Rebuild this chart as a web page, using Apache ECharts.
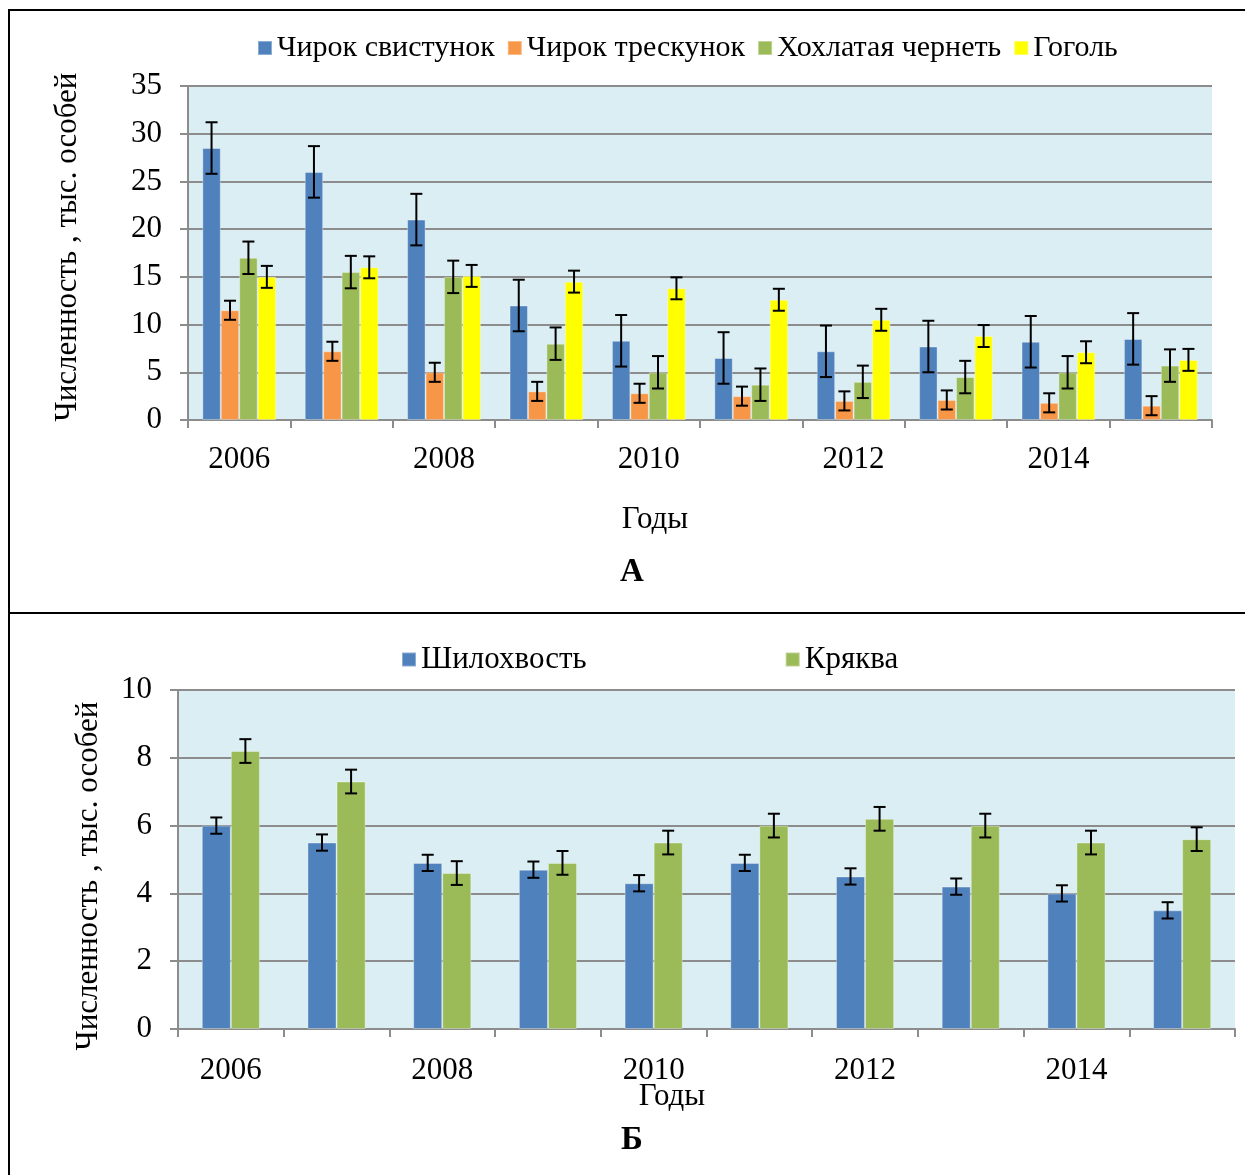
<!DOCTYPE html>
<html>
<head>
<meta charset="utf-8">
<script src="https://cdn.jsdelivr.net/npm/echarts@6/dist/echarts.min.js"></script>
<style>
html, body { margin: 0; padding: 0; background: #fff; }
#chart { width: 1245px; height: 1175px; }
</style>
</head>
<body>
<div id="chart"></div>
<script>
var years = ['2006', '2007', '2008', '2009', '2010', '2011', '2012', '2013', '2014', '2015'];

// panel A
var namesA = ['Чирок свистунок', 'Чирок трескунок', 'Хохлатая чернеть', 'Гоголь'];
var svistunok = [28.5, 26.0, 21.0, 12.0, 8.3, 6.5, 7.2, 7.7, 8.2, 8.5];
var svistunokErr = [2.7, 2.7, 2.7, 2.7, 2.7, 2.7, 2.7, 2.7, 2.7, 2.7];
var treskunok = [11.5, 7.2, 5.0, 3.0, 2.8, 2.5, 2.0, 2.1, 1.8, 1.5];
var treskunokErr = [1.0, 1.0, 1.0, 1.0, 1.0, 1.0, 1.0, 1.0, 1.0, 1.0];
var chernet = [17.0, 15.5, 15.0, 8.0, 5.0, 3.7, 4.0, 4.5, 5.0, 5.7];
var chernetErr = [1.7, 1.7, 1.7, 1.7, 1.7, 1.7, 1.7, 1.7, 1.7, 1.7];
var gogol = [15.0, 16.0, 15.1, 14.5, 13.8, 12.6, 10.5, 8.8, 7.1, 6.3];
var gogolErr = [1.15, 1.15, 1.15, 1.15, 1.15, 1.15, 1.15, 1.15, 1.15, 1.15];

// panel Б
var namesB = ['Шилохвость', 'Кряква'];
var shilohvost = [6.0, 5.5, 4.9, 4.7, 4.3, 4.9, 4.5, 4.2, 4.0, 3.5];
var shilohvostErr = [0.24, 0.24, 0.24, 0.24, 0.24, 0.24, 0.24, 0.24, 0.24, 0.24];
var kryakva = [8.2, 7.3, 4.6, 4.9, 5.5, 6.0, 6.2, 6.0, 5.5, 5.6];
var kryakvaErr = [0.35, 0.35, 0.35, 0.35, 0.35, 0.35, 0.35, 0.35, 0.35, 0.35];

var blue = '#4F81BD', orange = '#F79646', green = '#9BBB59', yellow = '#FFFF00';
var font = "'Liberation Serif', 'Times New Roman', serif";
var axisGray = '#8C8C8C';

function errData(values, errs) {
    var out = [];
    for (var i = 0; i < values.length; i++) {
        out.push([i, values[i] - errs[i], values[i] + errs[i]]);
    }
    return out;
}

function errorRenderer(idx, count, gap) {
    return function (params, api) {
        var catWidth = api.size([1, 0])[0];
        var barWidth = catWidth * (1 - gap) / count;
        var offset = -barWidth * count / 2 + barWidth * (idx + 0.5);
        var hi = api.coord([api.value(0), api.value(2)]);
        var lo = api.coord([api.value(0), api.value(1)]);
        var x = hi[0] + offset;
        var style = {stroke: '#000', lineWidth: 2};
        return {
            type: 'group',
            children: [
                {type: 'line', shape: {x1: x, y1: hi[1], x2: x, y2: lo[1]}, style: style},
                {type: 'line', shape: {x1: x - 6, y1: hi[1], x2: x + 6, y2: hi[1]}, style: style},
                {type: 'line', shape: {x1: x - 6, y1: lo[1], x2: x + 6, y2: lo[1]}, style: style}
            ]
        };
    };
}

function barSeries(name, data, color, gridIdx, gap) {
    return {
        name: name,
        type: 'bar',
        xAxisIndex: gridIdx,
        yAxisIndex: gridIdx,
        data: data,
        barGap: '0%',
        barCategoryGap: gap,
        itemStyle: {color: color, borderColor: 'rgba(255,255,255,0.35)', borderWidth: 1},
        silent: true
    };
}

function errSeries(values, errs, gridIdx, idx, count, gap) {
    return {
        type: 'custom',
        xAxisIndex: gridIdx,
        yAxisIndex: gridIdx,
        renderItem: errorRenderer(idx, count, gap),
        encode: {x: 0, y: [1, 2]},
        data: errData(values, errs),
        z: 10,
        silent: true
    };
}

function xAxis(gridIdx, margin) {
    return {
        type: 'category',
        gridIndex: gridIdx,
        data: years,
        axisLine: {lineStyle: {color: axisGray, width: 2}},
        axisTick: {show: true, interval: 0, length: 8, lineStyle: {color: axisGray, width: 2}},
        axisLabel: {interval: 1, margin: margin, color: '#000', fontFamily: font, fontSize: 31}
    };
}

function yAxis(gridIdx, max, step) {
    return {
        type: 'value',
        gridIndex: gridIdx,
        min: 0,
        max: max,
        interval: step,
        axisLine: {show: true, lineStyle: {color: axisGray, width: 2}},
        axisTick: {show: true, length: 8, lineStyle: {color: axisGray, width: 2}},
        axisLabel: {margin: 26, color: '#000', fontFamily: font, fontSize: 31},
        splitLine: {show: true, lineStyle: {color: axisGray, width: 2}}
    };
}

var chart = echarts.init(document.getElementById('chart'));

var option = {
    animation: false,
    backgroundColor: '#fff',
    textStyle: {fontFamily: font},
    grid: [
        {left: 188, top: 86, width: 1024, height: 334, show: true, backgroundColor: '#DBEEF3', borderWidth: 0},
        {left: 178, top: 690, width: 1057, height: 339, show: true, backgroundColor: '#DBEEF3', borderWidth: 0}
    ],
    legend: [
        {
            data: namesA, left: 252, top: 28, itemWidth: 14, itemHeight: 14, itemGap: 12,
            icon: 'rect', selectedMode: false,
            textStyle: {fontFamily: font, fontSize: 30, color: '#000'}
        },
        {
            data: namesB, left: 396, top: 639, itemWidth: 14, itemHeight: 14, itemGap: 198,
            icon: 'rect', selectedMode: false,
            textStyle: {fontFamily: font, fontSize: 31, color: '#000'}
        }
    ],
    xAxis: [xAxis(0, 24), xAxis(1, 26)],
    yAxis: [yAxis(0, 35, 5), yAxis(1, 10, 2)],
    series: [
        barSeries(namesA[0], svistunok, blue, 0, '28%'),
        barSeries(namesA[1], treskunok, orange, 0, '28%'),
        barSeries(namesA[2], chernet, green, 0, '28%'),
        barSeries(namesA[3], gogol, yellow, 0, '28%'),
        errSeries(svistunok, svistunokErr, 0, 0, 4, 0.28),
        errSeries(treskunok, treskunokErr, 0, 1, 4, 0.28),
        errSeries(chernet, chernetErr, 0, 2, 4, 0.28),
        errSeries(gogol, gogolErr, 0, 3, 4, 0.28),
        barSeries(namesB[0], shilohvost, blue, 1, '45%'),
        barSeries(namesB[1], kryakva, green, 1, '45%'),
        errSeries(shilohvost, shilohvostErr, 1, 0, 2, 0.45),
        errSeries(kryakva, kryakvaErr, 1, 1, 2, 0.45)
    ],
    graphic: [
        {type: 'line', shape: {x1: 8, y1: 10, x2: 1245, y2: 10}, style: {stroke: '#000', lineWidth: 2}},
        {type: 'line', shape: {x1: 9, y1: 10, x2: 9, y2: 1175}, style: {stroke: '#000', lineWidth: 2}},
        {type: 'line', shape: {x1: 8, y1: 613, x2: 1245, y2: 613}, style: {stroke: '#000', lineWidth: 2}},
        {
            type: 'text', x: 68, y: 247, rotation: Math.PI / 2,
            style: {text: 'Численность , тыс. особей', fontFamily: font, fontSize: 31, fill: '#000', align: 'center', verticalAlign: 'middle'}
        },
        {
            type: 'text', x: 89, y: 876, rotation: Math.PI / 2,
            style: {text: 'Численность , тыс. особей', fontFamily: font, fontSize: 31, fill: '#000', align: 'center', verticalAlign: 'middle'}
        },
        {
            type: 'text', x: 655, y: 520,
            style: {text: 'Годы', fontFamily: font, fontSize: 31, fill: '#000', align: 'center', verticalAlign: 'middle'}
        },
        {
            type: 'text', x: 672, y: 1097,
            style: {text: 'Годы', fontFamily: font, fontSize: 31, fill: '#000', align: 'center', verticalAlign: 'middle'}
        },
        {
            type: 'text', x: 632, y: 572,
            style: {text: 'А', fontFamily: font, fontSize: 33, fontWeight: 'bold', fill: '#000', align: 'center', verticalAlign: 'middle'}
        },
        {
            type: 'text', x: 632, y: 1140,
            style: {text: 'Б', fontFamily: font, fontSize: 33, fontWeight: 'bold', fill: '#000', align: 'center', verticalAlign: 'middle'}
        }
    ]
};

chart.setOption(option);
window.onresize = function () {
    chart.resize();
};
</script>
</body>
</html>
